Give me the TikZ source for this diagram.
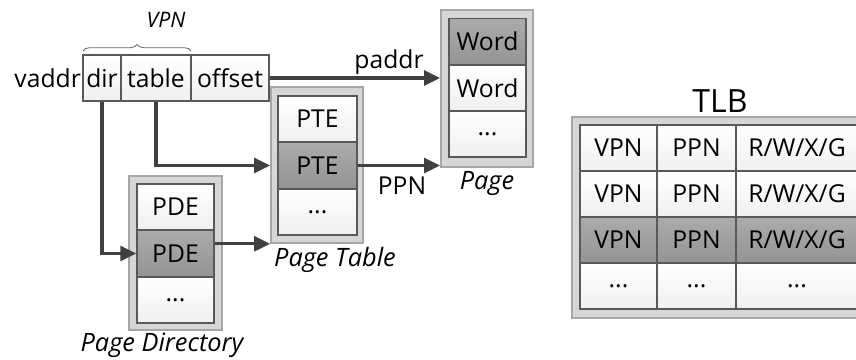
\documentclass[tikz,border=0pt]{standalone}
\usepackage{fontspec}
\setmainfont{Open Sans}
\usetikzlibrary{arrows.meta}
\usetikzlibrary{positioning}
\usetikzlibrary{decorations.pathreplacing}

\newcommand{\etcdots}{...}
\newcommand{\rwxg}{R/W/X/G}

\tikzset{
  frame/.style={draw=black!35, fill=black!16, line width=1.2pt, inner sep=0pt},
  cell/.style={draw=black!65, top color=white, bottom color=black!6, line width=0.8pt,
    minimum height=34.5pt, inner sep=0pt, font=\fontsize{18.5}{22}\selectfont},
  hicell/.style={cell, top color=black!33, bottom color=black!42},
  link/.style={draw=black!75, line width=2.5pt, -{Triangle[length=12pt,width=11pt]}},
  caption/.style={font=\fontsize{19}{23}\selectfont\itshape},
  plain/.style={font=\fontsize{18.5}{22}\selectfont}
}

\begin{document}
\begin{tikzpicture}[x=0.75pt,y=0.75pt,yscale=-1,xscale=1]
\path[use as bounding box] (0,0) rectangle (856,360);
\clip (0,0) rectangle (856,360);

%Virtual address
\node[cell, minimum width=28.5pt] (dir) at (102,78) {dir};
\node[cell, minimum width=52.5pt] (table) at (156,78) {table};
\node[cell, minimum width=58.5pt] (offset) at (230,78) {offset};
\node[plain, anchor=east, inner sep=1pt] (vaddr) at (dir.west) {vaddr};
\draw[black!60, line width=0.6pt, decorate, decoration={brace, amplitude=5pt}]
  (83,51) -- (191,51);
\node[font=\fontsize{16}{19}\selectfont\itshape] (vpn) at (166,20) {VPN};

%Page Directory
\node[frame, minimum width=69.75pt, minimum height=115.5pt] (pdframe) at (175.5,253) {};
\node[cell, minimum width=57.75pt] (pde1) at (175.5,207) {PDE};
\node[hicell, minimum width=57.75pt] (pde2) at (175.5,253.5) {PDE};
\node[cell, minimum width=57.75pt] (pde3) at (175.5,300) {\etcdots};
\node[caption] (pdlabel) at (162,345) {Page Directory};

%Page Table
\node[frame, minimum width=69pt, minimum height=117pt] (ptframe) at (317,165) {};
\node[cell, minimum width=59.25pt] (pte1) at (317.5,119) {PTE};
\node[hicell, minimum width=59.25pt] (pte2) at (317.5,165.5) {PTE};
\node[cell, minimum width=59.25pt] (pte3) at (317.5,212) {\etcdots};
\node[caption] (ptlabel) at (335,260) {Page Table};

%Page
\node[frame, minimum width=69pt, minimum height=117.75pt] (pgframe) at (487,88.5) {};
\node[hicell, minimum width=57.75pt] (word1) at (487.5,41.5) {Word};
\node[cell, minimum width=57.75pt] (word2) at (487.5,88) {Word};
\node[cell, minimum width=57.75pt] (word3) at (487.5,134) {\etcdots};
\node[caption] (pglabel) at (487,183) {Page};

%TLB
\node[frame, minimum width=220.5pt, minimum height=150.75pt] (tlbframe) at (719,217.5) {};
\node[font=\fontsize{24}{28}\selectfont] (tlblabel) at (720,101) {TLB};
\foreach \r/\y/\st/\a/\b/\c in {1/148/cell/VPN/PPN/\rwxg,
    2/194/cell/VPN/PPN/\rwxg,
    3/240/hicell/VPN/PPN/\rwxg,
    4/286/cell/\etcdots/\etcdots/\etcdots}{
  \node[\st, minimum width=57.75pt] (vpn\r) at (618.5,\y) {\a};
  \node[\st, minimum width=59.25pt] (ppn\r) at (696.5,\y) {\b};
  \node[\st, minimum width=91.5pt] (flags\r) at (797,\y) {\c};
}

%Connectors
\draw[link] (offset.east) -- (offset.east -| pgframe.west);
\node[plain] (paddr) at (389,62) {paddr};
\draw[link] (table.south) |- (ptframe.west |- pte2);
\draw[link] (pte2.east) -- (pte2.east -| pgframe.west);
\node[plain] (ppn) at (402,186) {PPN};
\draw[link] (dir.south) |- (pde2.west);
\draw[link] (pde2.east |- ptframe.south) -- (ptframe.south west);

\end{tikzpicture}
\end{document}
